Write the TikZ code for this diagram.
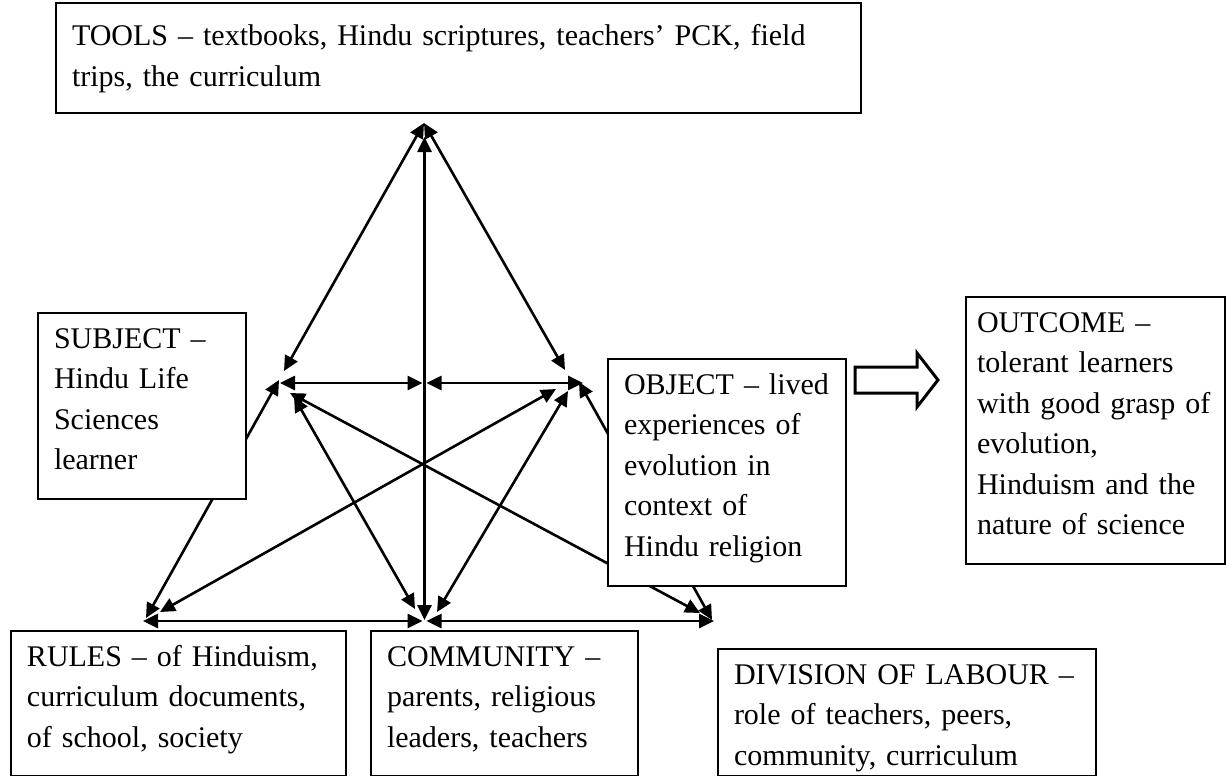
\documentclass[tikz,border=0pt]{standalone}
\usepackage{fontspec}
\setmainfont{Liberation Serif}
\usetikzlibrary{arrows.meta}
\begin{document}
\begin{tikzpicture}[x=1pt,y=-1pt,
  link/.style={line width=2.6pt,
    {Triangle[length=15pt,width=14pt]}-{Triangle[length=15pt,width=14pt]}},
  box/.style={draw, line width=2pt, fill=white, anchor=north west,
    inner xsep=16pt, inner ysep=0pt, text height=35pt, align=left,
    font=\fontsize{30pt}{40.5pt}\selectfont},
  hollow/.style={draw, line width=3pt, fill=white, line join=miter}
]
\useasboundingbox (0,0) rectangle (1226,776);

% corners of the activity triangle (each line's own end point)
\coordinate (apex) at (424,123);
\coordinate (vt)   at (424.5,137);
\coordinate (mlA)  at (284,371);
\coordinate (mrA)  at (565,370);
\coordinate (ml)   at (280,383);
\coordinate (mcL)  at (422.5,383);
\coordinate (mcR)  at (426.5,383);
\coordinate (mr)   at (583,383);
\coordinate (mlB)  at (279,380);
\coordinate (blB)  at (146,618);
\coordinate (mrB)  at (579,382);
\coordinate (brB)  at (712,620);
\coordinate (mlC)  at (290,393);
\coordinate (brC)  at (700,613);
\coordinate (mrC)  at (556,389);
\coordinate (blC)  at (160,612);
\coordinate (mlD)  at (294,397);
\coordinate (bcD)  at (415,609);
\coordinate (mrD)  at (568,391);
\coordinate (bcE)  at (437,612);
\coordinate (bl)   at (143,621);
\coordinate (bcL)  at (422.5,621);
\coordinate (bcR)  at (426.5,621);
\coordinate (br)   at (714,621);
\coordinate (vb)   at (424.5,620);

% connectors
\draw[link] (apex) -- (mlA);
\draw[link] (apex) -- (mrA);
\draw[link] (vt) -- (vb);
\draw[link] (ml) -- (mcL);
\draw[link] (mcR) -- (mr);
\draw[link] (mlB) -- (blB);
\draw[link] (mrB) -- (brB);
\draw[link] (mlC) -- (brC);
\draw[link] (mrC) -- (blC);
\draw[link] (mlD) -- (bcD);
\draw[link] (mrD) -- (bcE);
\draw[link] (bl) -- (bcL);
\draw[link] (bcR) -- (br);

% text boxes
\node[box, text width=773pt, text height=43pt, text depth=67pt] (tools) at (55,2)
  {TOOLS – textbooks, Hindu scriptures, teachers’ PCK, field\\trips, the curriculum};
\node[box, text width=176pt, text depth=151pt] (subject) at (37,312)
  {SUBJECT –\\Hindu Life\\Sciences\\learner};
\node[box, text width=206pt, text depth=192pt] (object) at (607,358)
  {OBJECT – lived\\experiences of\\evolution in\\context of\\Hindu religion};
\node[box, inner xsep=11pt, text width=237pt, text depth=232pt] (outcome) at (965,296)
  {OUTCOME –\\tolerant learners\\with good grasp of\\evolution,\\Hinduism and the\\nature of science};
\node[box, text width=303pt, text depth=110pt] (rules) at (10,630)
  {RULES – of Hinduism,\\curriculum documents,\\of school, society};
\node[box, text width=235pt, text depth=110pt] (community) at (370,630)
  {COMMUNITY –\\parents, religious\\leaders, teachers};
\node[box, text width=346pt, text depth=92pt] (division) at (717,648)
  {DIVISION OF LABOUR –\\role of teachers, peers,\\community, curriculum};

% open block arrow from object to outcome
\coordinate (ha) at (855,380);
\draw[hollow] (ha) ++(0,-13) -- ++(62,0) -- ++(0,-14) -- ++(21,27)
  -- ++(-21,27) -- ++(0,-14) -- ++(-62,0) -- cycle;
\end{tikzpicture}
\end{document}
